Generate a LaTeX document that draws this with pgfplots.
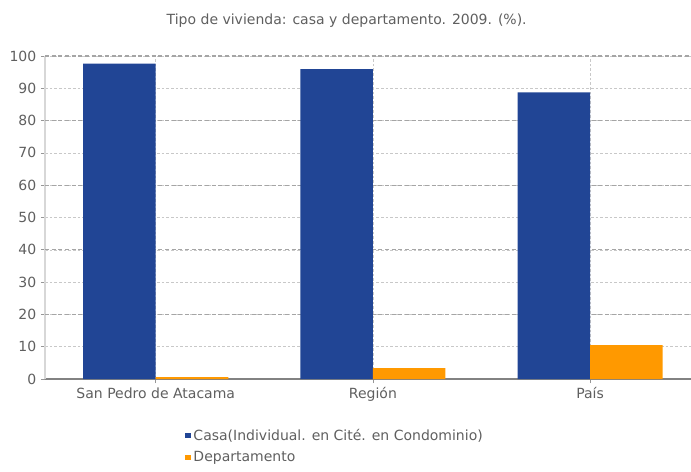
\documentclass[border=0pt]{standalone}
\usepackage{fontspec}
\setmainfont{DejaVu Sans}
\usepackage{pgfplots}
\pgfplotsset{compat=1.18}
\definecolor{casa}{RGB}{33,69,149}
\definecolor{depto}{RGB}{255,153,0}
\definecolor{txt}{RGB}{95,95,95}
\begin{document}
\begin{tikzpicture}
\useasboundingbox (-33.75pt,-69pt) rectangle (484.5pt,284.25pt);
\begin{axis}[
    at={(0,0)}, anchor=south west,
    scale only axis, width=484.5pt, height=242.25pt,
    ybar=0pt, bar width=0.334,
    xmin=-0.51, xmax=2.465, ymin=0, ymax=100,
    xtick={0,1,2},
    xticklabels={San Pedro de Atacama, Región, País},
    ytick={0,10,...,100},
    /pgf/number format/assume math mode=true,
    axis x line*=bottom, axis y line*=left,
    x axis line style={draw={rgb,255:red,130;green,130;blue,130}, line width=0.9pt, -},
    y axis line style={draw={rgb,255:red,215;green,215;blue,215}, line width=0.8pt, -},
    tick style={draw={rgb,255:red,150;green,150;blue,150}, line width=0.5pt},
    tick align=outside, major tick length=3pt,
    ymajorgrids, xmajorgrids,
    grid style={draw={rgb,255:red,200;green,200;blue,200}, dash pattern=on 2pt off 1.5pt, line width=0.4pt},
    extra y ticks={20,40,60,80,100},
    extra y tick labels={},
    extra y tick style={grid style={draw={rgb,255:red,165;green,165;blue,165}, dash pattern=on 3pt off 2pt, line width=0.9pt}, major tick length=0pt},
    ticklabel style={font=\fontsize{10.5}{12}\selectfont, text=txt},
    title={Tipo de vivienda: casa y departamento. 2009. (\%).},
    title style={font=\fontsize{10.5}{12}\selectfont, text=txt, at={(0.467,1)}, anchor=south, yshift=12pt},
    legend style={draw=none, fill=none, font=\fontsize{10.5}{12}\selectfont, text=txt,
        at={(0.215,-0.142)}, anchor=north west, row sep=3pt, inner sep=1pt},
    legend cell align=left,
    legend image code/.code={\fill[#1] (0pt,-2pt) rectangle (4pt,2pt);},
]
\addplot[fill=casa, draw=none] coordinates {(0,97.6) (1,95.9) (2,88.7)};
\addlegendentry{Casa(Individual. en Cité. en Condominio)}
\addplot[fill=depto, draw=none] coordinates {(0,0.6) (1,3.4) (2,10.5)};
\addlegendentry{Departamento}
\end{axis}
\end{tikzpicture}
\end{document}
